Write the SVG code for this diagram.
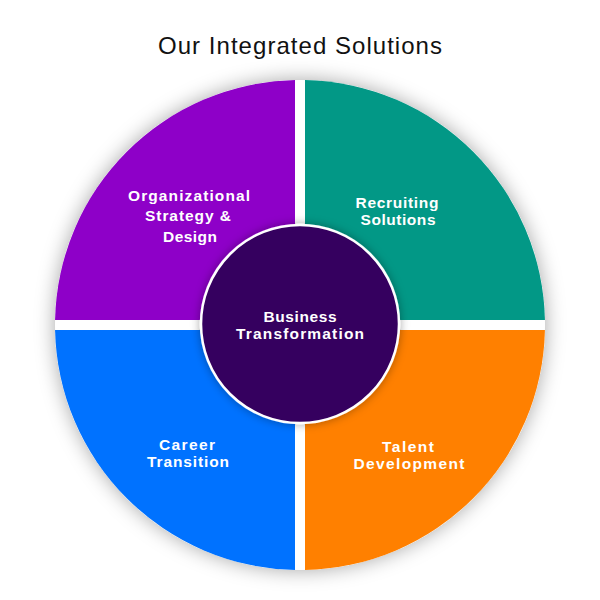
<svg xmlns="http://www.w3.org/2000/svg" width="600" height="600" viewBox="0 0 600 600">
  <defs>
    <filter id="shadow" x="-20%" y="-20%" width="140%" height="140%">
      <feDropShadow dx="0" dy="0" stdDeviation="10" flood-color="#000" flood-opacity="0.35"/>
    </filter>
    <filter id="innerShadow" x="-20%" y="-20%" width="140%" height="140%">
      <feDropShadow dx="0" dy="0" stdDeviation="5" flood-color="#000" flood-opacity="0.35"/>
    </filter>
    <style>
      .title { font-family: "Liberation Sans", Arial, sans-serif; font-size: 24px; fill: #111; }
      .lbl { font-family: "Liberation Sans", Arial, sans-serif; font-weight: 700; font-size: 15.5px; fill: #fff; text-anchor: middle; }
    </style>
  </defs>
  <rect width="600" height="600" fill="#fff"/>
  <text class="title" x="300" y="54" text-anchor="middle" textLength="284" lengthAdjust="spacing">Our Integrated Solutions</text>

  <circle cx="300" cy="325" r="245" fill="#fff" filter="url(#shadow)"/>

  <g id="org-strategy">
    <path d="M295,320 L295,80.05 A245,245 0 0 0 55.05,320 Z" fill="#8e00c8"/>
    <text class="lbl" x="189" y="201" textLength="122" lengthAdjust="spacing">Organizational</text>
    <text class="lbl" x="188" y="221" textLength="86" lengthAdjust="spacing">Strategy &amp;</text>
    <text class="lbl" x="190" y="242" textLength="54" lengthAdjust="spacing">Design</text>
  </g>
  <g id="recruiting">
    <path d="M305,320 L544.95,320 A245,245 0 0 0 305,80.05 Z" fill="#029886"/>
    <text class="lbl" x="397" y="208" textLength="83" lengthAdjust="spacing">Recruiting</text>
    <text class="lbl" x="398" y="225" textLength="75" lengthAdjust="spacing">Solutions</text>
  </g>
  <g id="talent">
    <path d="M305,330 L305,569.95 A245,245 0 0 0 544.95,330 Z" fill="#ff8000"/>
    <text class="lbl" x="408" y="452" textLength="52" lengthAdjust="spacing">Talent</text>
    <text class="lbl" x="409" y="469" textLength="111" lengthAdjust="spacing">Development</text>
  </g>
  <g id="career">
    <path d="M295,330 L55.05,330 A245,245 0 0 0 295,569.95 Z" fill="#0072ff"/>
    <text class="lbl" x="187" y="450" textLength="56" lengthAdjust="spacing">Career</text>
    <text class="lbl" x="188" y="467" textLength="82" lengthAdjust="spacing">Transition</text>
  </g>
  <g id="business">
    <circle cx="300" cy="324" r="99" fill="#35005f" stroke="#fff" stroke-width="2.5" filter="url(#innerShadow)"/>
    <text class="lbl" x="300" y="322" textLength="73" lengthAdjust="spacing">Business</text>
    <text class="lbl" x="300" y="339" textLength="128" lengthAdjust="spacing">Transformation</text>
  </g>
  <g id="connectors"></g>
</svg>
